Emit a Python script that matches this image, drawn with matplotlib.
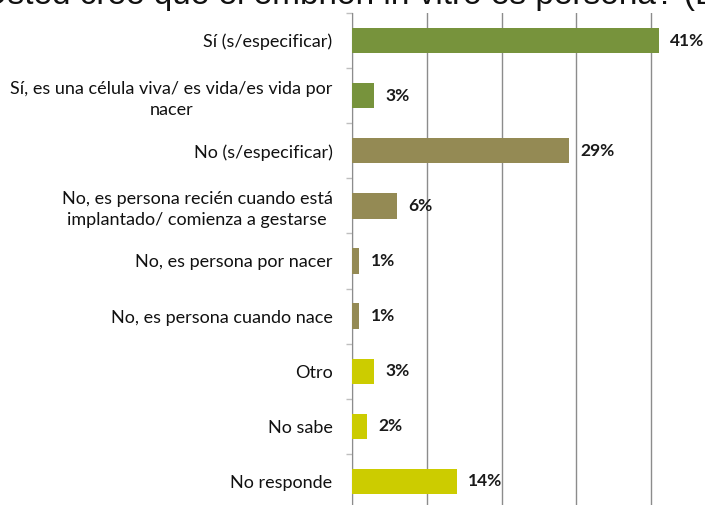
import matplotlib.pyplot as plt

categories = [
    'Sí (s/especificar)',
    'Sí, es una célula viva/ es vida/es vida por\nnacer',
    'No (s/especificar)',
    'No, es persona recién cuando está\nimplantado/ comienza a gestarse',
    'No, es persona por nacer',
    'No, es persona cuando nace',
    'Otro',
    'No sabe',
    'No responde',
]
values = [41, 3, 29, 6, 1, 1, 3, 2, 14]
groups = ['si', 'si', 'no', 'no', 'no', 'no', 'otro', 'otro', 'otro']
group_colors = {'si': '#77933C', 'no': '#948A54', 'otro': '#CCCC00'}
title = '¿Usted cree que el embrión in vitro es persona? (Base: total)'

fig = plt.figure(figsize=(7.05, 5.05), dpi=100)
ax = fig.add_axes([352 / 705, -4 / 505, 374 / 705, 496 / 505])

ypos = list(range(len(categories)))
colors = [group_colors[g] for g in groups]
ax.barh(ypos, values, height=0.46, color=colors, zorder=3)

for y, v in zip(ypos, values):
    ax.annotate(f'{v}%', (v, y), xytext=(8, 0), textcoords='offset points',
                va='center', ha='left', fontsize=12.5, fontweight='bold',
                family='Lato', color='#1a1a1a')

ax.set_xlim(0, 50)
ax.set_ylim(len(categories) - 0.5, -0.5)
ax.set_xticks([0, 10, 20, 30, 40, 50])
ax.xaxis.grid(True, color='#8C8C8C', linewidth=1, zorder=0)
ax.tick_params(axis='x', length=0, labelbottom=False)

ax.set_yticks(ypos)
ax.set_yticklabels(categories, fontsize=13, family='Lato', color='#111111',
                   linespacing=1.35)
for lbl in ax.get_yticklabels():
    lbl.set_multialignment('center')
ax.set_yticks([y - 0.5 for y in range(len(categories) + 1)], minor=True)
ax.tick_params(axis='y', which='major', length=0, pad=14)
ax.tick_params(axis='y', which='minor', length=4, width=1, color='#BFBFBF')

for s in ['top', 'right', 'bottom']:
    ax.spines[s].set_visible(False)
ax.spines['left'].set_color('#8C8C8C')

fig.text(-37 / 705, 1 - 4 / 505, title, family='Liberation Sans', fontsize=24,
         ha='left', va='baseline', color='#111111')

fig.savefig('out.png', dpi=100)
